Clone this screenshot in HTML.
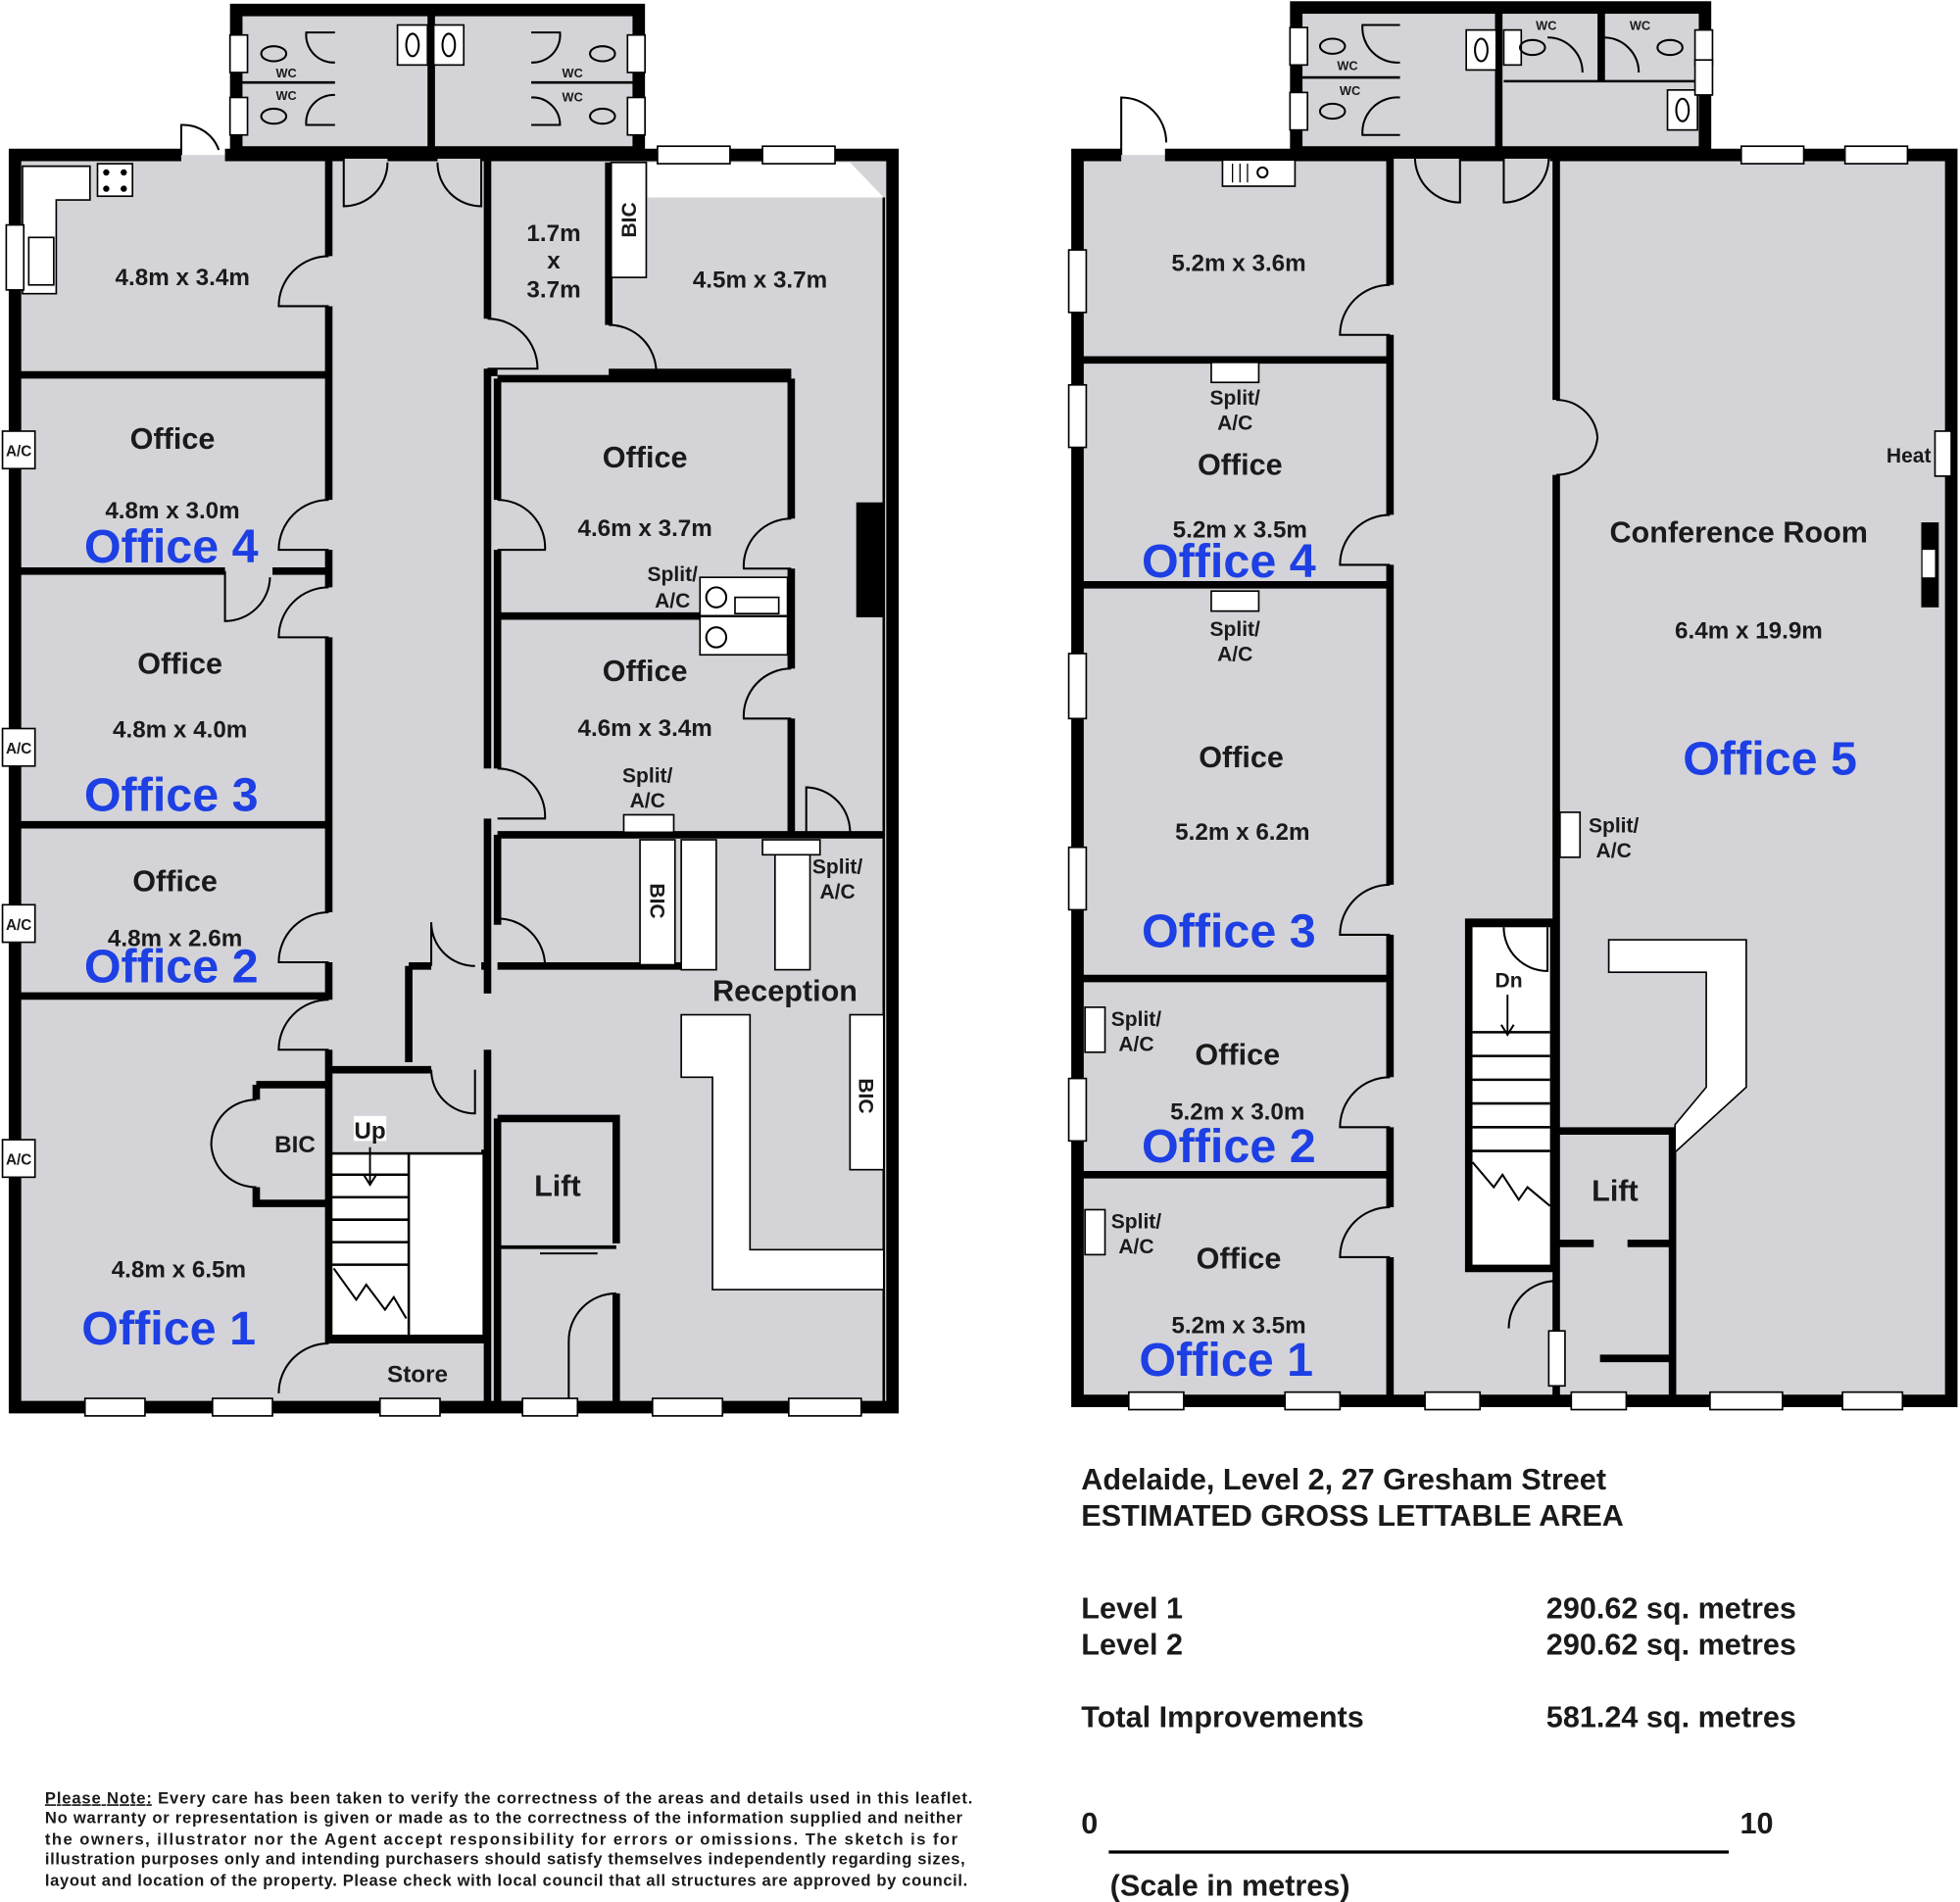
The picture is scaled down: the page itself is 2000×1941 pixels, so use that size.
<!DOCTYPE html>
<html><head><meta charset="utf-8"><style>
html,body{margin:0;padding:0;background:#fff}
svg{display:block}
text{font-family:"Liberation Sans",Arial,sans-serif;font-weight:bold;fill:#1a1a1a}
.m{font-size:19px}.o{font-size:24px}.s{font-size:16.5px}.b{font-size:38px;fill:#1d3fe4}
.w{fill:none;stroke:#000;stroke-width:6}.W{fill:none;stroke:#000;stroke-width:10}
.d{fill:none;stroke:#000;stroke-width:1.6}
.win{fill:#fff;stroke:#000;stroke-width:1.3}
.g{fill:#d4d4d8}
</style></head><body>
<svg width="2000" height="1941" viewBox="0 0 1568 1522" preserveAspectRatio="none" xmlns="http://www.w3.org/2000/svg">
<rect width="1568" height="1522" fill="#fff"/>
<!-- ============ LEFT PLAN ============ -->
<rect class="g" x="12" y="124" width="702" height="1002"/>
<rect class="g" x="189" y="8" width="322" height="116"/>
<polygon points="518,130 680,130 707,158 518,158" fill="#fff"/>
<rect x="189" y="8" width="322" height="114" class="W"/>
<line x1="345" y1="8" x2="345" y2="120" class="w"/>
<line x1="193" y1="66" x2="268" y2="66" stroke="#000" stroke-width="2"/>
<line x1="425" y1="66" x2="508" y2="66" stroke="#000" stroke-width="2"/>
<rect x="318" y="20" width="24" height="32" class="win"/><rect x="347" y="20" width="24" height="32" class="win"/>
<ellipse cx="330" cy="36" rx="5" ry="9" class="d"/><ellipse cx="359" cy="36" rx="5" ry="9" class="d"/>
<g class="d"><path d="M268,26 H245 A22,22 0 0 0 268,50"/><path d="M268,100 H245 A22,22 0 0 1 268,76"/><path d="M425,26 H448 A22,22 0 0 1 425,50"/><path d="M425,100 H448 A22,22 0 0 0 425,78"/></g>
<g><rect x="184" y="28" width="14" height="30" class="win"/><rect x="184" y="78" width="14" height="30" class="win"/><rect x="502" y="28" width="14" height="30" class="win"/><rect x="502" y="78" width="14" height="30" class="win"/>
<ellipse cx="219" cy="43" rx="10" ry="6" class="d"/><ellipse cx="219" cy="93" rx="10" ry="6" class="d"/><ellipse cx="482" cy="43" rx="10" ry="6" class="d"/><ellipse cx="482" cy="93" rx="10" ry="6" class="d"/></g>
<g style="font-size:10px;font-weight:normal" text-anchor="middle"><text x="229" y="62" font-size="10">WC</text><text x="229" y="80" font-size="10">WC</text>
<text x="458" y="62" font-size="10">WC</text><text x="458" y="81" font-size="10">WC</text></g>
<path d="M145,124 H12 V1126 H714 V124 H388" class="W"/>
<path d="M180,124 H275 M310,124 H350 M385,124 H392" class="W"/>
<line x1="263" y1="124" x2="263" y2="205" class="w"/><line x1="263" y1="245" x2="263" y2="400" class="w"/>
<line x1="263" y1="440" x2="263" y2="470" class="w"/><line x1="263" y1="510" x2="263" y2="730" class="w"/>
<line x1="263" y1="770" x2="263" y2="800" class="w"/><line x1="263" y1="840" x2="263" y2="1075" class="w"/>
<line x1="390" y1="124" x2="390" y2="255" class="w"/><line x1="390" y1="295" x2="390" y2="615" class="w"/>
<line x1="390" y1="655" x2="390" y2="795" class="w"/><line x1="390" y1="840" x2="390" y2="1126" class="w"/>
<line x1="12" y1="300" x2="263" y2="300" class="w"/><line x1="12" y1="457" x2="180" y2="457" class="w"/><line x1="218" y1="457" x2="263" y2="457" class="w"/>
<line x1="12" y1="660" x2="263" y2="660" class="w"/><line x1="12" y1="797" x2="263" y2="797" class="w"/>
<line x1="390" y1="298" x2="398" y2="298" class="w"/><line x1="487" y1="130" x2="487" y2="260" class="w"/><line x1="487" y1="298" x2="633" y2="298" class="w"/>
<rect x="489" y="130" width="28" height="92" class="win"/>
<line x1="398" y1="303" x2="633" y2="303" class="w"/><line x1="633" y1="303" x2="633" y2="415" class="w"/><line x1="633" y1="455" x2="633" y2="535" class="w"/><line x1="633" y1="575" x2="633" y2="668" class="w"/>
<line x1="398" y1="303" x2="398" y2="400" class="w"/><line x1="398" y1="440" x2="398" y2="615" class="w"/>
<line x1="398" y1="493" x2="633" y2="493" class="w"/><line x1="398" y1="668" x2="707" y2="668" class="w"/>
<line x1="707" y1="158" x2="707" y2="1126" stroke="#000" stroke-width="2"/>
<rect x="685" y="402" width="22" height="92" fill="#000"/>
<rect x="560" y="462" width="70" height="62" class="win"/><line x1="560" y1="493" x2="630" y2="493" stroke="#000" stroke-width="2"/>
<circle cx="573" cy="478" r="8" class="d"/><circle cx="573" cy="510" r="8" class="d"/><rect x="588" y="478" width="35" height="13" class="win"/>
<rect x="499" y="652" width="40" height="14" class="win"/>
<line x1="398" y1="668" x2="398" y2="740" class="w"/><line x1="398" y1="773" x2="545" y2="773" class="w"/>
<rect x="512" y="672" width="28" height="100" class="win"/><rect x="545" y="672" width="28" height="104" class="win"/>
<rect x="620" y="680" width="28" height="96" class="win"/><rect x="610" y="672" width="46" height="12" class="win"/>
<rect x="680" y="812" width="27" height="124" class="win"/>
<polygon points="545,812 600,812 600,1000 707,1000 707,1032 570,1032 570,862 545,862" class="win" stroke-width="1.5"/>
<path d="M327,773 H345 M327,773 V850 M385,773 H390" class="w"/>
<line x1="263" y1="856" x2="345" y2="856" class="w"/>
<line x1="388" y1="920" x2="388" y2="1070" class="w"/>
<rect x="265" y="923" width="122" height="146" fill="#fff" stroke="#000" stroke-width="2"/>
<line x1="327" y1="923" x2="327" y2="1069" stroke="#000" stroke-width="2"/>
<g stroke="#000" stroke-width="2"><line x1="265" y1="940" x2="327" y2="940"/><line x1="265" y1="958" x2="327" y2="958"/><line x1="265" y1="976" x2="327" y2="976"/><line x1="265" y1="994" x2="327" y2="994"/><line x1="265" y1="1012" x2="327" y2="1012"/></g>
<polyline points="267,1015 285,1040 293,1028 308,1048 315,1038 325,1055" class="d" stroke-width="2"/>
<line x1="296" y1="918" x2="296" y2="948" stroke="#000" stroke-width="1.5"/><path d="M291,940 L296,948 L301,940" class="d"/>
<rect x="283" y="893" width="26" height="20" fill="#fff"/>
<line x1="263" y1="1072" x2="388" y2="1072" class="w"/>
<path d="M205,868 H263 M205,868 V880 M205,950 V963 H263" class="w"/>
<path d="M398,895 H493 V995 M398,895 V1126 M493,1035 V1126" class="w"/>
<line x1="400" y1="998" x2="493" y2="998" stroke="#000" stroke-width="3"/>
<line x1="432" y1="1003" x2="478" y2="1003" stroke="#000" stroke-width="1.5"/>
<path d="M18,133 H72 V160 H45 V235 H18 Z" fill="#fff" stroke="#000" stroke-width="1.3"/>
<rect x="78" y="131" width="28" height="26" class="win"/>
<g fill="#000"><circle cx="85" cy="138" r="2.5"/><circle cx="99" cy="138" r="2.5"/><circle cx="85" cy="151" r="2.5"/><circle cx="99" cy="151" r="2.5"/></g>
<rect x="23" y="190" width="20" height="38" class="win"/>
<g class="d">
<path d="M145,124 V100 A30,30 0 0 1 175,120"/>
<path d="M263,205 A40,40 0 0 0 223,245 H263"/>
<path d="M263,400 A40,40 0 0 0 223,440 H263"/>
<path d="M263,470 A40,40 0 0 0 223,510 H263"/>
<path d="M263,730 A40,40 0 0 0 223,770 H263"/>
<path d="M263,800 A40,40 0 0 0 223,840 H263"/>
<path d="M180,457 V497 A36,36 0 0 0 216,462"/>
<path d="M205,880 A36,36 0 0 0 169,916 A36,36 0 0 0 205,950"/>
<path d="M275,124 V165 A35,35 0 0 0 310,130"/>
<path d="M385,124 V165 A35,35 0 0 1 350,130"/>
<path d="M390,255 A40,40 0 0 1 430,295 H390"/>
<path d="M487,260 A38,38 0 0 1 525,298"/>
<path d="M398,400 A38,38 0 0 1 436,440 H398"/>
<path d="M398,615 A38,38 0 0 1 436,655 H398"/>
<path d="M633,415 A38,38 0 0 0 595,455 H633"/>
<path d="M633,535 A38,38 0 0 0 595,575 H633"/>
<path d="M645,668 V630 A36,36 0 0 1 680,668"/>
<path d="M345,773 V738 A35,35 0 0 0 380,773"/>
<path d="M398,735 A38,38 0 0 1 436,773"/>
<path d="M345,856 A35,35 0 0 0 380,891 V856"/>
<path d="M263,1075 A40,40 0 0 0 223,1115"/>
<path d="M493,1035 A38,38 0 0 0 455,1073 V1126"/>
</g>
<g class="win"><rect x="68" y="1119" width="48" height="14"/><rect x="170" y="1119" width="48" height="14"/><rect x="304" y="1119" width="48" height="14"/><rect x="418" y="1119" width="44" height="14"/><rect x="522" y="1119" width="56" height="14"/><rect x="631" y="1119" width="58" height="14"/>
<rect x="526" y="117" width="58" height="14"/><rect x="610" y="117" width="58" height="14"/>
<rect x="5" y="180" width="14" height="52"/></g>
<g><rect x="2" y="345" width="26" height="30" class="win"/><rect x="2" y="583" width="26" height="30" class="win"/><rect x="2" y="724" width="26" height="30" class="win"/><rect x="2" y="912" width="26" height="30" class="win"/></g>
<g text-anchor="middle" style="font-size:12px;font-weight:normal"><text x="15" y="365" font-size="12">A/C</text><text x="15" y="603" font-size="12">A/C</text><text x="15" y="744" font-size="12">A/C</text><text x="15" y="932" font-size="12">A/C</text></g>
<g text-anchor="middle">
<text x="146" y="228" class="m">4.8m x 3.4m</text>
<text x="138" y="359" class="o">Office</text><text x="138" y="415" class="m">4.8m x 3.0m</text><text x="137" y="450" class="b">Office 4</text>
<text x="144" y="539" class="o">Office</text><text x="144" y="590" class="m">4.8m x 4.0m</text><text x="137" y="649" class="b">Office 3</text>
<text x="140" y="713" class="o">Office</text><text x="140" y="757" class="m">4.8m x 2.6m</text><text x="137" y="786" class="b">Office 2</text>
<text x="236" y="922" class="m">BIC</text><text x="296" y="911" class="m">Up</text>
<text x="143" y="1022" class="m">4.8m x 6.5m</text><text x="135" y="1076" class="b">Office 1</text>
<text x="334" y="1106" class="m">Store</text>
<text x="443" y="193" class="m">1.7m</text><text x="443" y="215" class="m">x</text><text x="443" y="238" class="m">3.7m</text>
<text x="608" y="230" class="m">4.5m x 3.7m</text>
<text x="516" y="374" class="o">Office</text><text x="516" y="429" class="m">4.6m x 3.7m</text>
<text x="538" y="465" class="s">Split/</text><text x="538" y="486" class="s">A/C</text>
<text x="516" y="545" class="o">Office</text><text x="516" y="589" class="m">4.6m x 3.4m</text>
<text x="518" y="626" class="s">Split/</text><text x="518" y="646" class="s">A/C</text>
<text x="670" y="699" class="s">Split/</text><text x="670" y="719" class="s">A/C</text>
<text x="628" y="801" class="o">Reception</text>
<text x="446" y="957" class="o">Lift</text>
</g>
<text transform="translate(509,176) rotate(-90)" text-anchor="middle" class="s">BIC</text>
<text transform="translate(520,721) rotate(90)" text-anchor="middle" class="s">BIC</text>
<text transform="translate(687,877) rotate(90)" text-anchor="middle" class="s">BIC</text>

<!-- ============ RIGHT PLAN ============ -->
<rect class="g" x="862" y="124" width="699" height="997"/>
<rect class="g" x="1037" y="6" width="327" height="118"/>
<rect x="1037" y="6" width="327" height="116" class="W"/>
<line x1="1199" y1="6" x2="1199" y2="120" class="w"/><line x1="1281" y1="10" x2="1281" y2="65" class="w"/>
<line x1="1041" y1="62" x2="1120" y2="62" stroke="#000" stroke-width="2"/><line x1="1203" y1="65" x2="1360" y2="65" stroke="#000" stroke-width="2"/>
<rect x="1173" y="24" width="24" height="32" class="win"/><ellipse cx="1185" cy="40" rx="5" ry="9" class="d"/>
<rect x="1334" y="72" width="24" height="32" class="win"/><ellipse cx="1346" cy="88" rx="5" ry="9" class="d"/>
<g class="win"><rect x="1032" y="22" width="14" height="30"/><rect x="1032" y="74" width="14" height="30"/><rect x="1203" y="24" width="14" height="28"/><rect x="1356" y="24" width="14" height="28"/><rect x="1356" y="48" width="14" height="28"/></g>
<g class="d"><ellipse cx="1066" cy="37" rx="10" ry="6"/><ellipse cx="1066" cy="89" rx="10" ry="6"/><ellipse cx="1226" cy="38" rx="10" ry="6"/><ellipse cx="1336" cy="38" rx="10" ry="6"/>
<path d="M1120,20 H1090 A28,28 0 0 0 1120,50"/><path d="M1120,108 H1090 A28,28 0 0 1 1120,78"/><path d="M1238,30 A28,28 0 0 1 1266,58"/><path d="M1283,30 A28,28 0 0 1 1311,58"/></g>
<g text-anchor="middle" style="font-size:10px;font-weight:normal"><text x="1078" y="56" font-size="10">WC</text><text x="1080" y="76" font-size="10">WC</text><text x="1237" y="24" font-size="10">WC</text><text x="1312" y="24" font-size="10">WC</text></g>
<path d="M897,124 H862 V1121 H1561 V124 H1240 M932,124 H1112 M1168,124 H1203" class="W"/>
<line x1="1112" y1="124" x2="1112" y2="228" class="w"/><line x1="1112" y1="268" x2="1112" y2="412" class="w"/><line x1="1112" y1="452" x2="1112" y2="708" class="w"/><line x1="1112" y1="748" x2="1112" y2="862" class="w"/><line x1="1112" y1="902" x2="1112" y2="966" class="w"/><line x1="1112" y1="1006" x2="1112" y2="1121" class="w"/>
<line x1="1245" y1="124" x2="1245" y2="320" class="w"/><line x1="1245" y1="380" x2="1245" y2="1121" class="w"/>
<line x1="862" y1="288" x2="1112" y2="288" class="w"/><line x1="862" y1="468" x2="1112" y2="468" class="w"/><line x1="862" y1="783" x2="1112" y2="783" class="w"/><line x1="862" y1="940" x2="1112" y2="940" class="w"/>
<rect x="1172" y="735" width="73" height="283" fill="#000"/>
<rect x="1178" y="742" width="62" height="270" fill="#fff"/>
<g stroke="#000" stroke-width="2"><line x1="1178" y1="826" x2="1240" y2="826"/><line x1="1178" y1="845" x2="1240" y2="845"/><line x1="1178" y1="864" x2="1240" y2="864"/><line x1="1178" y1="883" x2="1240" y2="883"/><line x1="1178" y1="902" x2="1240" y2="902"/><line x1="1178" y1="921" x2="1240" y2="921"/></g>
<polyline points="1178,930 1195,950 1202,940 1215,960 1222,950 1240,965" class="d" stroke-width="2"/>
<line x1="1206" y1="796" x2="1206" y2="828" stroke="#000" stroke-width="1.5"/><path d="M1201,820 L1206,828 L1211,820" class="d"/>
<path d="M1203,742 A35,35 0 0 0 1238,777 V742" class="d"/>
<path d="M1245,905 H1338 V1121 M1245,995 H1275 M1302,995 H1338 M1280,1087 H1338" class="w"/>
<rect x="1239" y="1065" width="13" height="44" class="win"/>
<path d="M1245,1025 A38,38 0 0 0 1207,1063" class="d"/>
<polygon points="1287,752 1397,752 1397,870 1340,922 1340,900 1365,870 1365,778 1287,778" class="win" stroke-width="2"/>
<rect x="1248" y="650" width="16" height="36" class="win"/>
<rect x="1548" y="345" width="13" height="36" class="win"/>
<rect x="1537" y="418" width="14" height="68" fill="#000"/><rect x="1538" y="440" width="10" height="22" fill="#fff"/>
<rect x="969" y="290" width="38" height="16" class="win"/><rect x="969" y="473" width="38" height="16" class="win"/>
<rect x="978" y="128" width="58" height="21" class="win"/><g stroke="#000"><line x1="986" y1="131" x2="986" y2="146"/><line x1="992" y1="131" x2="992" y2="146"/><line x1="998" y1="131" x2="998" y2="146"/></g><circle cx="1010" cy="138" r="4" class="d"/>
<rect x="868" y="806" width="16" height="36" class="win"/><rect x="868" y="968" width="16" height="36" class="win"/>
<g class="d">
<path d="M897,124 V78 A36,36 0 0 1 933,114"/>
<path d="M1112,228 A40,40 0 0 0 1072,268 H1112"/>
<path d="M1112,412 A40,40 0 0 0 1072,452 H1112"/>
<path d="M1112,708 A40,40 0 0 0 1072,748 H1112"/>
<path d="M1112,862 A40,40 0 0 0 1072,902 H1112"/>
<path d="M1112,966 A40,40 0 0 0 1072,1006 H1112"/>
<path d="M1245,320 A33,33 0 0 1 1278,350 A33,33 0 0 1 1245,380"/>
<path d="M1168,124 V162 A36,36 0 0 1 1132,126"/>
<path d="M1203,124 V162 A36,36 0 0 0 1239,126"/>
</g>
<g class="win"><rect x="855" y="200" width="14" height="50"/><rect x="855" y="308" width="14" height="50"/><rect x="855" y="523" width="14" height="52"/><rect x="855" y="678" width="14" height="50"/><rect x="855" y="863" width="14" height="50"/>
<rect x="903" y="1114" width="44" height="14"/><rect x="1028" y="1114" width="44" height="14"/><rect x="1140" y="1114" width="44" height="14"/><rect x="1257" y="1114" width="44" height="14"/><rect x="1368" y="1114" width="58" height="14"/><rect x="1474" y="1114" width="48" height="14"/>
<rect x="1393" y="117" width="50" height="14"/><rect x="1476" y="117" width="50" height="14"/></g>
<g text-anchor="middle">
<text x="991" y="217" class="m">5.2m x 3.6m</text>
<text x="988" y="324" class="s">Split/</text><text x="988" y="344" class="s">A/C</text>
<text x="992" y="380" class="o">Office</text><text x="992" y="430" class="m">5.2m x 3.5m</text><text x="983" y="462" class="b">Office 4</text>
<text x="988" y="509" class="s">Split/</text><text x="988" y="529" class="s">A/C</text>
<text x="993" y="614" class="o">Office</text><text x="994" y="672" class="m">5.2m x 6.2m</text><text x="983" y="758" class="b">Office 3</text>
<text x="909" y="821" class="s">Split/</text><text x="909" y="841" class="s">A/C</text>
<text x="990" y="852" class="o">Office</text><text x="990" y="896" class="m">5.2m x 3.0m</text><text x="983" y="930" class="b">Office 2</text>
<text x="909" y="983" class="s">Split/</text><text x="909" y="1003" class="s">A/C</text>
<text x="991" y="1015" class="o">Office</text><text x="991" y="1067" class="m">5.2m x 3.5m</text><text x="981" y="1101" class="b">Office 1</text>
<text x="1207" y="790" class="s">Dn</text><text x="1292" y="961" class="o">Lift</text>
<text x="1527" y="370" class="s">Heat</text>
<text x="1391" y="434" class="o">Conference Room</text>
<text x="1399" y="511" class="m">6.4m x 19.9m</text>
<text x="1416" y="620" class="b">Office 5</text>
<text x="1291" y="666" class="s">Split/</text><text x="1291" y="686" class="s">A/C</text>
</g>
<g>
<text x="865" y="1192" font-size="24">Adelaide, Level 2, 27 Gresham Street</text>
<text x="865" y="1221" font-size="24">ESTIMATED GROSS LETTABLE AREA</text>
<text x="865" y="1295" font-size="24">Level 1</text><text x="1237" y="1295" font-size="24">290.62 sq. metres</text>
<text x="865" y="1324" font-size="24">Level 2</text><text x="1237" y="1324" font-size="24">290.62 sq. metres</text>
<text x="865" y="1382" font-size="24">Total Improvements</text><text x="1237" y="1382" font-size="24">581.24 sq. metres</text>
<text x="865" y="1467" font-size="24">0</text><text x="1392" y="1467" font-size="24">10</text>
<text x="888" y="1517" font-size="24">(Scale in metres)</text>
</g>
<line x1="887" y1="1482" x2="1383" y2="1482" stroke="#000" stroke-width="2.5"/>
<g>
<text x="36" y="1443" font-size="13" textLength="742" lengthAdjust="spacing"><tspan text-decoration="underline">Please Note:</tspan> Every care has  been  taken to verify  the correctness of the areas and   details used in  this leaflet.</text>
<text x="36" y="1459" font-size="13" textLength="734" lengthAdjust="spacing">No warranty  or representation  is given or made as to the correctness of the information supplied  and neither</text>
<text x="36" y="1476" font-size="13" textLength="730" lengthAdjust="spacing">the  owners,  illustrator  nor  the  Agent   accept   responsibility  for  errors  or  omissions.  The  sketch  is   for</text>
<text x="36" y="1492" font-size="13" textLength="736" lengthAdjust="spacing">illustration purposes only and intending purchasers should satisfy themselves independently  regarding sizes,</text>
<text x="36" y="1509" font-size="13" textLength="738" lengthAdjust="spacing">layout and location of the property.  Please check with local council that all structures are approved by council.</text>
</g>
</svg>
</body></html>
